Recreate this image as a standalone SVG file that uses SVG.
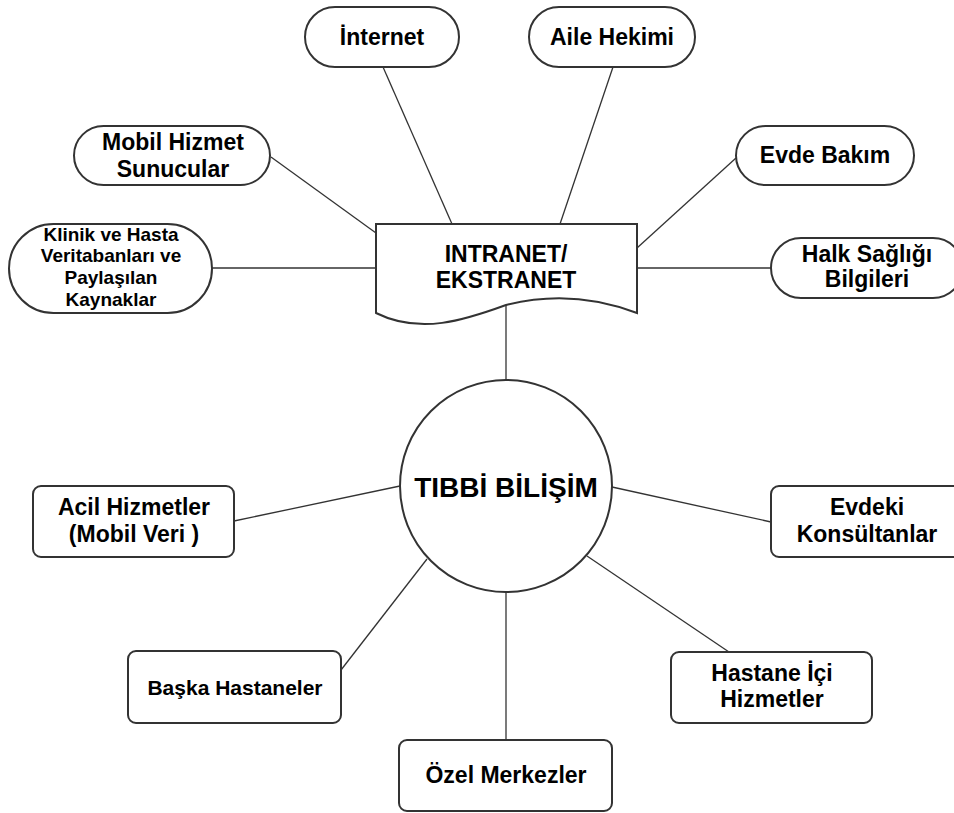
<svg xmlns="http://www.w3.org/2000/svg" width="954" height="813" viewBox="0 0 954 813">
  <style>
    .shape { fill: #ffffff; stroke: #333333; stroke-width: 2; }
    .link { stroke: #333333; stroke-width: 1.3; fill: none; }
    text { font-family: "Liberation Sans", Arial, sans-serif; font-weight: bold; fill: #000000; text-anchor: middle; }
    .t23 { font-size: 23px; }
    .t21 { font-size: 21px; }
    .t19 { font-size: 19px; }
    .t28 { font-size: 28px; }
  </style>
  <rect width="954" height="813" fill="#ffffff"/>

  <!-- connectors -->
  <g id="connectors">
    <line class="link" x1="383" y1="67" x2="452" y2="224"/>
    <line class="link" x1="613" y1="67" x2="560" y2="224"/>
    <line class="link" x1="271" y1="157" x2="376" y2="233"/>
    <line class="link" x1="212" y1="268" x2="376" y2="268"/>
    <line class="link" x1="736" y1="158" x2="637" y2="248"/>
    <line class="link" x1="771" y1="268" x2="637" y2="268"/>
    <line class="link" x1="506" y1="305" x2="506" y2="380"/>
    <line class="link" x1="234" y1="521" x2="400" y2="486"/>
    <line class="link" x1="341" y1="670" x2="427" y2="559"/>
    <line class="link" x1="506" y1="592" x2="506" y2="740"/>
    <line class="link" x1="612" y1="487" x2="771" y2="522"/>
    <line class="link" x1="587" y1="556" x2="729" y2="652"/>
  </g>

  <!-- intranet / extranet document -->
  <g id="intranet">
    <path class="shape" d="M376,224 H637 V313 C590,295 545,295 506,305 C465,320 420,335 376,313 Z"/>
    <text class="t23" x="506" y="262">INTRANET/</text>
    <text class="t23" x="506" y="288">EKSTRANET</text>
  </g>

  <g id="internet">
    <rect class="shape" x="305" y="7" width="154" height="60" rx="30"/>
    <text class="t23" x="382" y="45">İnternet</text>
  </g>

  <g id="aile-hekimi">
    <rect class="shape" x="529" y="7" width="166" height="60" rx="30"/>
    <text class="t23" x="612" y="45">Aile Hekimi</text>
  </g>

  <g id="mobil-hizmet">
    <rect class="shape" x="74" y="126" width="196" height="59" rx="29.5"/>
    <text class="t23" x="173" y="150">Mobil Hizmet</text>
    <text class="t23" x="173" y="177">Sunucular</text>
  </g>

  <g id="klinik">
    <rect class="shape" x="9" y="224" width="203" height="89" rx="44.5"/>
    <text class="t19" x="111" y="241">Klinik ve Hasta</text>
    <text class="t19" x="111" y="262">Veritabanları ve</text>
    <text class="t19" x="111" y="284">Paylaşılan</text>
    <text class="t19" x="111" y="306">Kaynaklar</text>
  </g>

  <g id="evde-bakim">
    <rect class="shape" x="736" y="126" width="178" height="59" rx="29.5"/>
    <text class="t23" x="825" y="163">Evde Bakım</text>
  </g>

  <g id="halk-sagligi">
    <rect class="shape" x="771" y="238" width="192" height="60" rx="30"/>
    <text class="t23" x="867" y="262">Halk Sağlığı</text>
    <text class="t23" x="867" y="287">Bilgileri</text>
  </g>

  <!-- central hub -->
  <g id="tibbi-bilisim">
    <circle class="shape" cx="506" cy="486" r="106"/>
    <text class="t28" x="506" y="497">TIBBİ BİLİŞİM</text>
  </g>

  <g id="acil-hizmetler">
    <rect class="shape" x="33" y="486" width="201" height="71" rx="8"/>
    <text class="t23" x="134" y="515">Acil Hizmetler</text>
    <text class="t23" x="134" y="542">(Mobil Veri )</text>
  </g>

  <g id="baska-hastaneler">
    <rect class="shape" x="128" y="651" width="213" height="72" rx="8"/>
    <text class="t21" x="235" y="695">Başka Hastaneler</text>
  </g>

  <g id="ozel-merkezler">
    <rect class="shape" x="399" y="740" width="213" height="71" rx="8"/>
    <text class="t23" x="506" y="783">Özel Merkezler</text>
  </g>

  <g id="evdeki-konsultanlar">
    <rect class="shape" x="771" y="486" width="192" height="71" rx="8"/>
    <text class="t23" x="867" y="515">Evdeki</text>
    <text class="t23" x="867" y="542">Konsültanlar</text>
  </g>

  <g id="hastane-ici">
    <rect class="shape" x="671" y="652" width="201" height="71" rx="8"/>
    <text class="t23" x="772" y="681">Hastane İçi</text>
    <text class="t23" x="772" y="707">Hizmetler</text>
  </g>
</svg>
